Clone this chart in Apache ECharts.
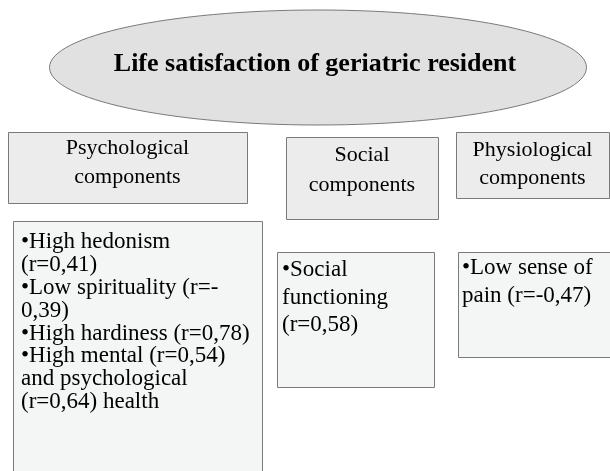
<!DOCTYPE html>
<html>
<head>
<meta charset="utf-8">
<script src="https://cdn.jsdelivr.net/npm/echarts@6/dist/echarts.min.js"></script>
<style>
  html, body { margin: 0; padding: 0; background: #fff; }
  #main { width: 610px; height: 471px; }
</style>
</head>
<body>
<div id="main"></div>
<script>
// texts of the diagram
var titleText = 'Life satisfaction of geriatric resident';
var groupNames = [
    ['Psychological', 'components'],
    ['Social', 'components'],
    ['Physiological', 'components']
];
var groupItems = [
    ['\u2022High hedonism', '(r=0,41)', '\u2022Low spirituality (r=-', '0,39)',
     '\u2022High hardiness (r=0,78)', '\u2022High mental (r=0,54)', 'and psychological', '(r=0,64) health'],
    ['\u2022Social', 'functioning', '(r=0,58)'],
    ['\u2022Low sense of', 'pain (r=-0,47)']
];

// layout of the boxes (pixels)
var headBoxes = [
    {x: 8, y: 132, w: 239, h: 71, ty: 134, lh: 29},
    {x: 286, y: 137, w: 152, h: 82, ty: 140, lh: 30},
    {x: 456, y: 132, w: 153, h: 66, ty: 136, lh: 28}
];
var listBoxes = [
    {x: 13, y: 221, w: 249, h: 270, tx: 21, ty: 231, lh: 22.8},
    {x: 277, y: 252, w: 157, h: 135, tx: 282, ty: 256, lh: 27.7},
    {x: 458, y: 252, w: 152, h: 105, tx: 462, ty: 254, lh: 28}
];

var serif = '"Liberation Serif", "DejaVu Serif", serif';
var lineColor = '#7a7a7a';

var myChart = echarts.init(document.getElementById('main'), null, {renderer: 'canvas'});

var elements = [];

// 椭圆 + 标题
elements.push({
    type: 'ellipse',
    shape: {cx: 318, cy: 67.5, rx: 268.5, ry: 57.5},
    style: {fill: '#e1e1e1', stroke: lineColor, lineWidth: 1}
});
elements.push({
    type: 'text',
    x: 315, y: 64,
    style: {
        text: titleText,
        font: 'bold 26px ' + serif,
        fill: '#000',
        align: 'center',
        verticalAlign: 'middle'
    }
});

for (var i = 0; i < groupNames.length; i++) {
    var hb = headBoxes[i];
    elements.push({
        type: 'rect',
        shape: {x: hb.x + 0.5, y: hb.y + 0.5, width: hb.w, height: hb.h},
        style: {fill: '#ececec', stroke: lineColor, lineWidth: 1}
    });
    elements.push({
        type: 'text',
        x: hb.x + hb.w / 2, y: hb.ty,
        style: {
            text: groupNames[i].join('\n'),
            font: '22px ' + serif,
            lineHeight: hb.lh,
            fill: '#000',
            align: 'center',
            verticalAlign: 'top'
        }
    });

    var lb = listBoxes[i];
    elements.push({
        type: 'rect',
        shape: {x: lb.x + 0.5, y: lb.y + 0.5, width: lb.w, height: lb.h},
        style: {fill: '#f4f5f5', stroke: lineColor, lineWidth: 1}
    });
    elements.push({
        type: 'text',
        x: lb.tx, y: lb.ty,
        style: {
            text: groupItems[i].join('\n'),
            font: '23px ' + serif,
            lineHeight: lb.lh,
            fill: '#000',
            align: 'left',
            verticalAlign: 'top'
        }
    });
}

var option = {
    animation: false,
    backgroundColor: '#fff',
    graphic: elements
};

myChart.setOption(option);
</script>
</body>
</html>
